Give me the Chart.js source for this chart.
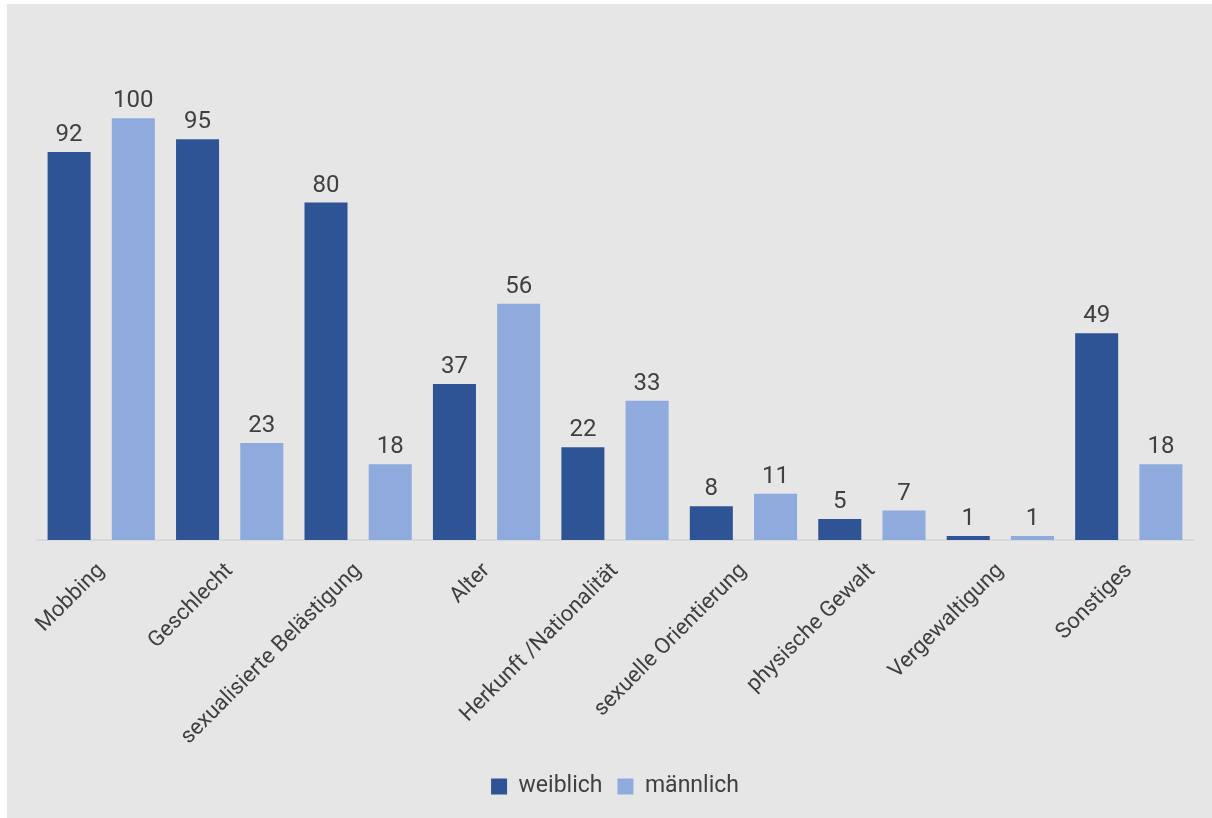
<!DOCTYPE html>
<html>
<head>
<meta charset="utf-8">
<script src="https://cdn.jsdelivr.net/npm/chart.js@4/dist/chart.umd.min.js"></script>
<style>
html, body { margin: 0; padding: 0; background: #ffffff; }
#wrap { position: absolute; left: 7px; top: 4px; width: 1205px; height: 814px; background: #e6e6e6; }
canvas { display: block; }
</style>
</head>
<body>
<div id="wrap"><canvas id="c" width="1205" height="814"></canvas></div>
<script>
const categories = ["Mobbing", "Geschlecht", "sexualisierte Belästigung", "Alter", "Herkunft /Nationalität", "sexuelle Orientierung", "physische Gewalt", "Vergewaltigung", "Sonstiges"];
const weiblich = [92, 95, 80, 37, 22, 8, 5, 1, 49];
const maennlich = [100, 23, 18, 56, 33, 11, 7, 1, 18];
const seriesNames = ["weiblich", "männlich"];

const labelPlugin = {
  id: 'valueLabels',
  afterDatasetsDraw(chart) {
    const ctx = chart.ctx;
    ctx.save();
    ctx.font = '24px Roboto';
    ctx.fillStyle = '#404040';
    ctx.textAlign = 'center';
    ctx.textBaseline = 'alphabetic';
    chart.data.datasets.forEach((ds, i) => {
      chart.getDatasetMeta(i).data.forEach((bar, j) => {
        ctx.fillText(String(ds.data[j]), bar.x, bar.y - 11);
      });
    });
    ctx.restore();
  }
};

new Chart(document.getElementById('c'), {
  type: 'bar',
  data: {
    labels: categories,
    datasets: [
      { label: seriesNames[0], data: weiblich, backgroundColor: '#2e5496' },
      { label: seriesNames[1], data: maennlich, backgroundColor: '#8faadc' }
    ]
  },
  options: {
    responsive: false,
    animation: false,
    devicePixelRatio: 1,
    layout: { padding: { left: 30, right: 19, top: 72, bottom: 10 } },
    datasets: { bar: { categoryPercentage: 1.0, barPercentage: 0.67 } },
    scales: {
      y: { display: false, min: 0, max: 110 },
      x: {
        grid: { display: false },
        border: { color: '#d9d9d9', width: 2 },
        ticks: {
          color: '#404040',
          font: { family: 'Roboto', size: 22 },
          maxRotation: 45, minRotation: 45,
          padding: 10
        }
      }
    },
    plugins: {
      legend: {
        position: 'bottom',
        labels: {
          color: '#404040',
          font: { family: 'Roboto', size: 23 },
          boxWidth: 16, boxHeight: 16,
          padding: 15
        }
      },
      tooltip: { enabled: false }
    }
  },
  plugins: [labelPlugin]
});
</script>
</body>
</html>
